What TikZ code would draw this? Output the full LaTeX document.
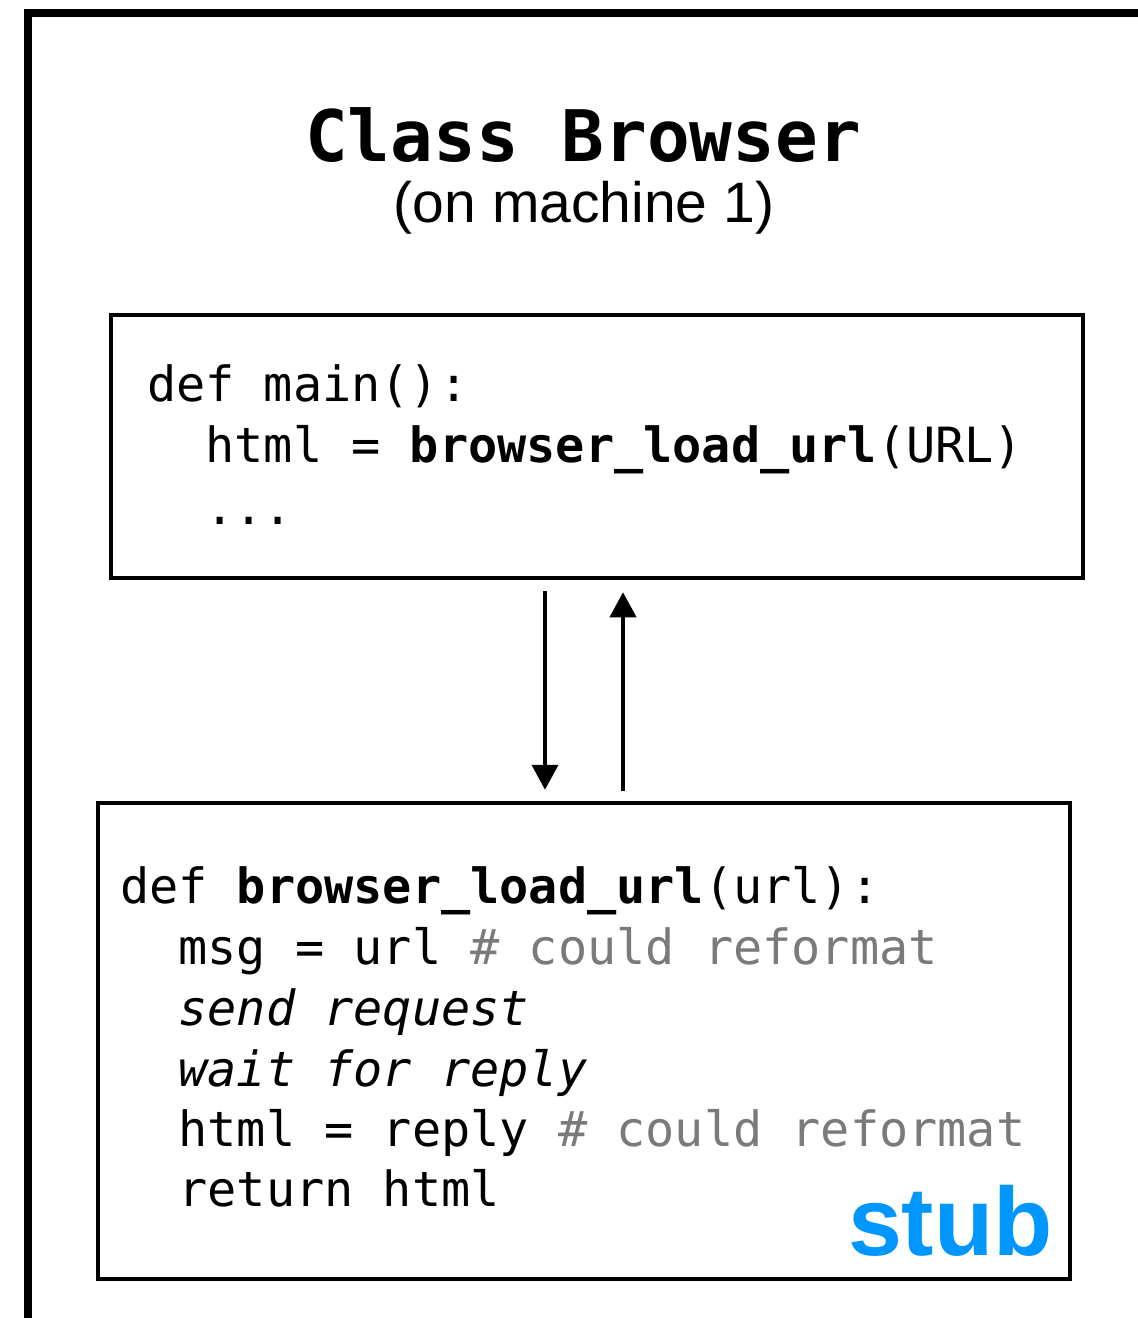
\documentclass[tikz,border=0pt]{standalone}
\usepackage{fontspec}
\setmainfont{Liberation Sans}
\setmonofont{DejaVu Sans Mono}
\usetikzlibrary{arrows.meta}

\definecolor{stubblue}{RGB}{0,150,255}
\definecolor{commentgray}{RGB}{122,122,122}

\tikzset{
  codebox/.style={draw, line width=4.5pt, rectangle, minimum width=972pt, inner sep=0pt},
  codeline/.style={anchor=base west, inner sep=0pt, font=\ttfamily\fontsize{48.5}{58}\selectfont},
  flow/.style={line width=4pt, -{Triangle[width=26pt,length=25pt]}},
}
\newcommand{\cmt}[1]{\textcolor{commentgray}{#1}}

\begin{document}
\begin{tikzpicture}[x=1pt,y=-1pt]
  \useasboundingbox (0,0) rectangle (1138,1318);
  \fill[white] (0,0) rectangle (1138,1318);
  \clip (0,0) rectangle (1138,1318);

  % machine frame, running off the right and bottom edges
  \draw[line width=8pt] (27.5,1400) rectangle (1250,12.5);

  % heading
  \node[anchor=base, inner sep=0pt, font=\ttfamily\bfseries\fontsize{71}{80}\selectfont]
    (title) at (583,161) {Class Browser};
  \node[anchor=base, inner sep=0pt, font=\fontsize{57}{64}\selectfont]
    (machine) at (584,222) {(on machine 1)};

  % caller
  \node[codebox, minimum height=263pt] (mainbox) at (597,446.5) {};
  \node[codeline] (m1) at (147,401) {def main():};
  \node[codeline] (m2) at (205.4,462.5) {html = \textbf{browser\_load\_url}(URL)};
  \node[codeline] (m3) at (205.4,524) {...};

  % stub
  \node[codebox, minimum height=476pt] (stubbox) at (584,1041) {};
  \node[codeline] (s1) at (120,903)   {def \textbf{browser\_load\_url}(url):};
  \node[codeline] (s2) at (178.4,964)  {msg = url \cmt{\# could reformat}};
  \node[codeline] (s3) at (178.4,1025) {\itshape send request};
  \node[codeline] (s4) at (178.4,1086) {\itshape wait for reply};
  \node[codeline] (s5) at (178.4,1146) {html = reply \cmt{\# could reformat}};
  \node[codeline] (s6) at (178.4,1206) {return html};
  \node[anchor=base east, inner sep=0pt, text=stubblue, font=\bfseries\fontsize{97}{100}\selectfont]
    (stub) at (1053,1255) {stub};

  % call and return
  \coordinate (callx) at (545,0);
  \coordinate (retx) at (623,0);
  \draw[flow, shorten <=11pt, shorten >=11pt] (callx |- mainbox.south) -- (callx |- stubbox.north);
  \draw[flow, shorten <=10pt, shorten >=12pt] (retx |- stubbox.north) -- (retx |- mainbox.south);
\end{tikzpicture}
\end{document}
